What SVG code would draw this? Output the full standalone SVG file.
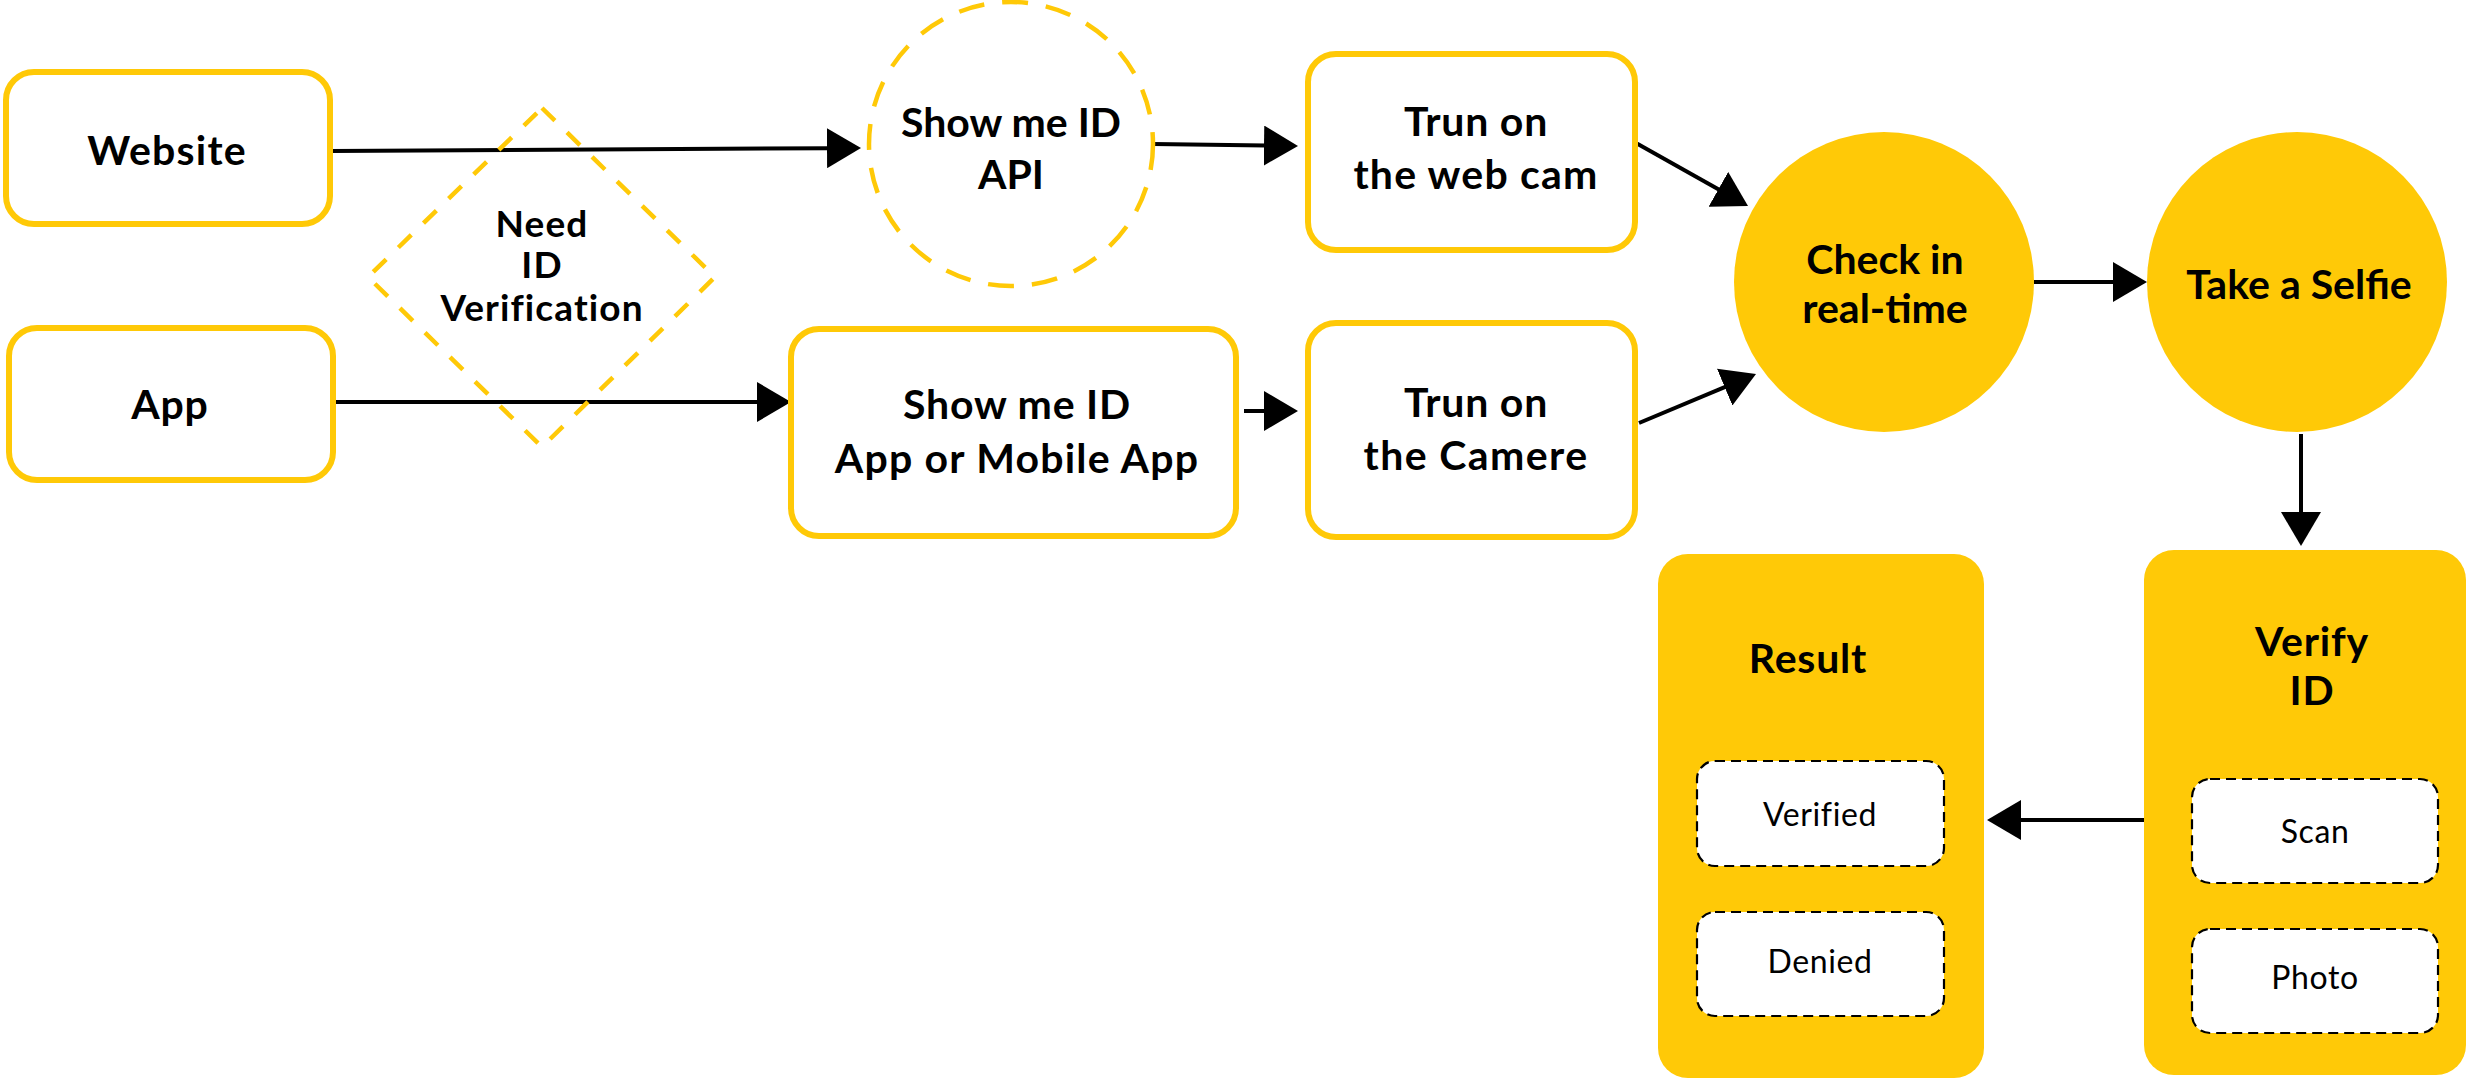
<svg xmlns="http://www.w3.org/2000/svg" width="2469" height="1080" viewBox="0 0 2469 1080">
<defs>
<style>
.box{fill:#fff;stroke:#FFC907;stroke-width:6}
.fill{fill:#FFC907;stroke:none}
.dash{fill:none;stroke:#FFC907;stroke-width:4.5}
.sub{fill:#fff;stroke:#000;stroke-width:2.2;stroke-dasharray:10 6}
.t{font-family:Lato,"Liberation Sans",sans-serif;font-weight:700;font-size:41px;letter-spacing:0.8px;fill:#000;text-anchor:middle}
.n{letter-spacing:0px}
.s{font-family:Lato,"Liberation Sans",sans-serif;font-weight:400;font-size:32px;letter-spacing:0.6px;fill:#000;text-anchor:middle}
.c{fill:none;stroke:#000;stroke-width:4;marker-end:url(#ah)}
</style>
<marker id="ah" markerUnits="userSpaceOnUse" markerWidth="34" markerHeight="40" refX="2" refY="20" orient="auto" viewBox="0 0 34 40">
<path d="M0,0 L34,20 L0,40 z" fill="#000"/>
</marker>
</defs>

<g id="connectors">
<line class="c" x1="332" y1="151" x2="829" y2="148.2"/>
<line class="c" x1="333" y1="402" x2="759" y2="402"/>
<line class="c" x1="1153" y1="144" x2="1266" y2="145.6"/>
<line class="c" x1="1244" y1="411" x2="1266" y2="411"/>
<line class="c" x1="1636" y1="143" x2="1720.1" y2="190.3"/>
<line class="c" x1="1639" y1="423" x2="1726.5" y2="386.3"/>
<line class="c" x1="2034" y1="282" x2="2115" y2="282"/>
<line class="c" x1="2301" y1="434" x2="2301" y2="514"/>
<line class="c" x1="2144" y1="820" x2="2019" y2="820"/>
</g>

<g id="website">
<rect class="box" x="6" y="72" width="324" height="152" rx="28"/>
<text class="t" x="167" y="165" style="letter-spacing:1.2px">Website</text>
</g>

<g id="app">
<rect class="box" x="9" y="328" width="324" height="152" rx="28"/>
<text class="t" x="170" y="419">App</text>
</g>

<g id="need-id">
<polygon class="dash" points="542,108 715,277 542,447 368,277" stroke-dasharray="18 17"/>
<text class="t" x="542" y="237" style="font-size:37px;letter-spacing:1.1px">Need</text>
<text class="t" x="542" y="278" style="font-size:37px;letter-spacing:1.1px">ID</text>
<text class="t" x="542" y="321" style="font-size:37px;letter-spacing:1.1px">Verification</text>
</g>

<g id="show-api">
<circle class="dash" cx="1011" cy="144" r="142" stroke-dasharray="26 18"/>
<text class="t n" x="1011" y="137">Show me ID</text>
<text class="t n" x="1011" y="189">API</text>
</g>

<g id="webcam">
<rect class="box" x="1308" y="54" width="327" height="196" rx="28"/>
<text class="t" x="1476" y="136">Trun on</text>
<text class="t" x="1476" y="189" style="letter-spacing:1.2px">the web cam</text>
</g>

<g id="show-app">
<rect class="box" x="791" y="329" width="445" height="207" rx="28"/>
<text class="t" x="1017" y="419">Show me ID</text>
<text class="t" x="1017" y="473" style="letter-spacing:1.2px">App or Mobile App</text>
</g>

<g id="camere">
<rect class="box" x="1308" y="323" width="327" height="214" rx="28"/>
<text class="t" x="1476" y="417">Trun on</text>
<text class="t" x="1476" y="470" style="letter-spacing:1.4px">the Camere</text>
</g>

<g id="check">
<circle class="fill" cx="1884" cy="282" r="150"/>
<text class="t n" x="1885" y="274">Check in</text>
<text class="t n" x="1885" y="323">real-time</text>
</g>

<g id="selfie">
<circle class="fill" cx="2297" cy="282" r="150"/>
<text class="t n" x="2299" y="299">Take a Selfie</text>
</g>

<g id="result">
<rect class="fill" x="1658" y="554" width="326" height="524" rx="30"/>
<text class="t" x="1808" y="673">Result</text>
<g id="verified">
<rect class="sub" x="1697" y="761" width="247" height="105" rx="18"/>
<text class="s" x="1820" y="826">Verified</text>
</g>
<g id="denied">
<rect class="sub" x="1697" y="912" width="247" height="104" rx="18"/>
<text class="s" x="1820" y="973">Denied</text>
</g>
</g>

<g id="verify">
<rect class="fill" x="2144" y="550" width="322" height="525" rx="30"/>
<text class="t" x="2312" y="656">Verify</text>
<text class="t" x="2312" y="705">ID</text>
<g id="scan">
<rect class="sub" x="2192" y="779" width="246" height="104" rx="18"/>
<text class="s" x="2315" y="843">Scan</text>
</g>
<g id="photo">
<rect class="sub" x="2192" y="929" width="246" height="104" rx="18"/>
<text class="s" x="2315" y="989">Photo</text>
</g>
</g>
</svg>
